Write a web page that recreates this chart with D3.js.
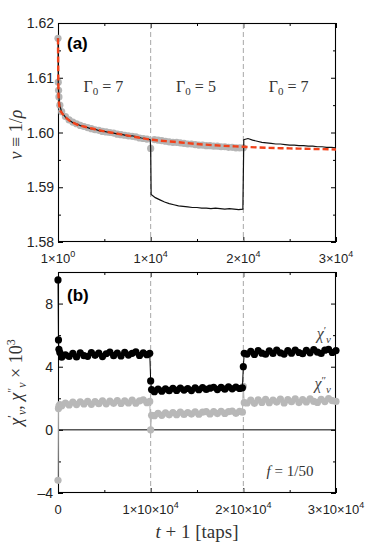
<!DOCTYPE html>
<html><head><meta charset="utf-8">
<script src="https://cdn.jsdelivr.net/npm/d3@7/dist/d3.min.js"></script>
<style>
body{margin:0;background:#fff;}
svg{display:block;}
</style></head>
<body>
<svg id="chart" width="374" height="548"></svg>
<script>
// ---------- DATA ----------
const xTickValues = [0, 10000, 20000, 30000];
const xTickExpTop = ["0", "4", "4", "4"];
const xTickMantTop = ["1", "1", "2", "3"];
const xTickLabelsBottom = ["0", "1×10|4", "2×10|4", "3×10|4"];
const yTopTicks = [1.58, 1.59, 1.60, 1.61, 1.62];
const yBotTicks = [-4, 0, 4, 8];
const transitions = [10000, 20000];
const gammaLabels = ["7", "5", "7"];
const gammaCenters = [5000, 15000, 25000];

// Red dashed (reference Γ0 = 7 curve)
const tRed = [0, 50, 100, 200, 400, 700, 1000, 1500, 2000, 3000, 4000, 5000, 6000, 8000, 10000, 12500, 15000, 17500, 20000, 22500, 25000, 27500, 30000];
const vRed = [1.6172, 1.6075, 1.6055, 1.6043, 1.6036, 1.6030, 1.6025, 1.6019, 1.6015, 1.6010, 1.6006, 1.6002, 1.5999, 1.5993, 1.5987, 1.5983, 1.5979, 1.5976, 1.5974, 1.5972, 1.5971, 1.5970, 1.5969];

// Gray points (constant Γ0 = 7 run)
const tGray = [0, 30, 60, 100, 200, 400, 800, 1200, 1600, 2000, 2400, 2800, 3200, 3600, 4000, 4400, 4800, 5200, 5600, 6000, 6400, 6800, 7200, 7600, 8000, 8400, 8800, 9200, 9600, 10000, 10400, 10800, 11200, 11600, 12000, 12400, 12800, 13200, 13600, 14000, 14400, 14800, 15200, 15600, 16000, 16400, 16800, 17200, 17600, 18000, 18400, 18800, 19200, 19600, 20000];
const vGray = [1.6172, 1.6092, 1.6077, 1.6065, 1.6050, 1.6038, 1.6029, 1.6023, 1.6019, 1.6016, 1.6013, 1.6011, 1.6009, 1.6007, 1.6005, 1.6004, 1.6002, 1.6001, 1.6000, 1.5999, 1.5997, 1.5996, 1.5995, 1.5994, 1.5993, 1.5992, 1.5990, 1.5989, 1.5988, 1.5971, 1.5987, 1.5986, 1.5985, 1.5984, 1.5983, 1.5982, 1.5982, 1.5981, 1.5980, 1.5979, 1.5979, 1.5978, 1.5977, 1.5977, 1.5976, 1.5976, 1.5975, 1.5975, 1.5974, 1.5974, 1.5973, 1.5973, 1.5972, 1.5972, 1.5972];

// Black line (switching protocol 7 -> 5 -> 7)
const tBlack = [0, 30, 60, 100, 200, 400, 800, 1200, 1600, 2000, 2500, 3000, 3500, 4000, 4500, 5000, 5500, 6000, 6500, 7000, 7500, 8000, 8500, 9000, 9500, 9950, 10000, 10050, 10500, 11000, 11500, 12000, 12500, 13000, 13500, 14000, 14500, 15000, 15500, 16000, 16500, 17000, 17500, 18000, 18500, 19000, 19500, 19950, 20050, 20500, 21000, 21500, 22000, 22500, 23000, 23500, 24000, 24500, 25000, 25500, 26000, 26500, 27000, 27500, 28000, 28500, 29000, 29500, 30000];
const vBlack = [1.6172, 1.6090, 1.6076, 1.6064, 1.6049, 1.6037, 1.6028, 1.6023, 1.6018, 1.6016, 1.6012, 1.6010, 1.6007, 1.6006, 1.6003, 1.6002, 1.6000, 1.5999, 1.5997, 1.5996, 1.5994, 1.5994, 1.5992, 1.5990, 1.5989, 1.5987, 1.5972, 1.5887, 1.5881, 1.5877, 1.5873, 1.5870, 1.5868, 1.5866, 1.5865, 1.5864, 1.5863, 1.5863, 1.5862, 1.5862, 1.5861, 1.5862, 1.5861, 1.5860, 1.5861, 1.5860, 1.5859, 1.5860, 1.5987, 1.5989, 1.5986, 1.5984, 1.5982, 1.5981, 1.5980, 1.5979, 1.5979, 1.5978, 1.5977, 1.5977, 1.5976, 1.5976, 1.5975, 1.5975, 1.5974, 1.5974, 1.5973, 1.5973, 1.5972];

// Bottom panel: χ'_v (black) and χ''_v (gray), ×10^3
const tChi = [0, 50, 100, 200, 400, 800, 1200, 1600, 2000, 2400, 2800, 3200, 3600, 4000, 4400, 4800, 5200, 5600, 6000, 6400, 6800, 7200, 7600, 8000, 8400, 8800, 9200, 9600, 9900, 10000, 10100, 10400, 10800, 11200, 11600, 12000, 12400, 12800, 13200, 13600, 14000, 14400, 14800, 15200, 15600, 16000, 16400, 16800, 17200, 17600, 18000, 18400, 18800, 19200, 19600, 19900, 20000, 20100, 20400, 20800, 21200, 21600, 22000, 22400, 22800, 23200, 23600, 24000, 24400, 24800, 25200, 25600, 26000, 26400, 26800, 27200, 27600, 28000, 28400, 28800, 29200, 29600, 30000];
const chiPrime = [9.5, 5.7, 5.1, 4.9, 4.6, 4.75, 4.65, 4.85, 4.62, 4.88, 4.70, 4.66, 4.90, 4.72, 4.86, 4.64, 4.82, 4.92, 4.70, 4.87, 4.68, 4.91, 4.74, 4.85, 4.94, 4.71, 4.88, 4.76, 4.85, 3.1, 2.55, 2.42, 2.58, 2.45, 2.60, 2.48, 2.63, 2.50, 2.65, 2.52, 2.62, 2.49, 2.66, 2.54, 2.68, 2.56, 2.64, 2.70, 2.55, 2.69, 2.58, 2.72, 2.60, 2.71, 2.62, 2.66, 4.0, 4.85, 4.80, 4.98, 4.78, 5.02, 4.86, 4.79, 5.00, 4.84, 5.05, 4.88, 4.80, 5.02, 4.86, 5.06, 4.90, 4.82, 5.04, 4.88, 5.08, 4.92, 4.84, 5.05, 5.10, 4.90, 5.02];
const chiSecond = [-3.2, 1.35, 1.5, 1.6, 1.52, 1.70, 1.58, 1.76, 1.60, 1.78, 1.64, 1.80, 1.62, 1.79, 1.66, 1.84, 1.65, 1.82, 1.68, 1.86, 1.67, 1.83, 1.70, 1.88, 1.69, 1.84, 1.90, 1.72, 1.80, 0.0, 0.92, 0.90, 1.05, 0.92, 1.08, 0.95, 1.10, 0.96, 1.12, 0.98, 1.10, 1.00, 1.14, 0.99, 1.12, 1.15, 1.01, 1.16, 1.03, 1.18, 1.04, 1.15, 1.19, 1.05, 1.17, 1.12, 2.75, 1.72, 1.70, 1.88, 1.68, 1.90, 1.74, 1.94, 1.72, 1.89, 1.76, 1.95, 1.70, 1.91, 1.78, 1.97, 1.73, 1.92, 1.77, 1.96, 1.80, 1.74, 1.94, 1.79, 1.98, 1.85, 1.80];

// ---------- DRAWING ----------
const svg = d3.select("#chart");
const L = 58, R = 336;
const topY0 = 23, topY1 = 242;
const botY0 = 272, botY1 = 493;
const sans = "'Liberation Sans', Arial, sans-serif";
const serif = "'Liberation Serif', 'Times New Roman', serif";

const x = d3.scaleLinear().domain([0, 30000]).range([L, R]);
const yTop = d3.scaleLinear().domain([1.58, 1.62]).range([topY1, topY0]);
const yBot = d3.scaleLinear().domain([-4, 10]).range([botY1, botY0]);

function panelAxes(y0, y1, yScale, yMajor, yMinor) {
  const g = svg.append("g");
  g.append("g").attr("transform", `translate(0,${y1})`)
    .call(d3.axisBottom(x).tickValues(xTickValues).tickSizeInner(-5).tickSizeOuter(0).tickFormat(""));
  g.append("g").attr("transform", `translate(0,${y1})`)
    .call(d3.axisBottom(x).tickValues([5000, 15000, 25000]).tickSizeInner(-3).tickSizeOuter(0).tickFormat(""));
  g.append("g").attr("transform", `translate(0,${y0})`)
    .call(d3.axisTop(x).tickValues(xTickValues).tickSizeInner(-5).tickSizeOuter(0).tickFormat(""));
  g.append("g").attr("transform", `translate(0,${y0})`)
    .call(d3.axisTop(x).tickValues([5000, 15000, 25000]).tickSizeInner(-3).tickSizeOuter(0).tickFormat(""));
  g.append("g").attr("transform", `translate(${L},0)`)
    .call(d3.axisLeft(yScale).tickValues(yMajor).tickSizeInner(-5).tickSizeOuter(0).tickFormat(""));
  g.append("g").attr("transform", `translate(${L},0)`)
    .call(d3.axisLeft(yScale).tickValues(yMinor).tickSizeInner(-3).tickSizeOuter(0).tickFormat(""));
  g.append("g").attr("transform", `translate(${R},0)`)
    .call(d3.axisRight(yScale).tickValues(yMajor).tickSizeInner(-5).tickSizeOuter(0).tickFormat(""));
  g.append("g").attr("transform", `translate(${R},0)`)
    .call(d3.axisRight(yScale).tickValues(yMinor).tickSizeInner(-3).tickSizeOuter(0).tickFormat(""));
  g.selectAll(".domain").remove();
  g.selectAll(".tick line").attr("stroke", "#000").attr("stroke-width", 1);
  svg.append("rect").attr("x", L + 0.5).attr("y", y0 + 0.5).attr("width", R - L - 1).attr("height", y1 - y0 - 1)
    .attr("fill", "none").attr("stroke", "#000").attr("stroke-width", 1.1);
  svg.append("g").selectAll("line").data(transitions).join("line")
    .attr("x1", d => x(d)).attr("x2", d => x(d)).attr("y1", y0 + 1).attr("y2", y1 - 1)
    .attr("stroke", "#a8a8a8").attr("stroke-width", 1).attr("stroke-dasharray", "5,3");
}

panelAxes(topY0, topY1, yTop, yTopTicks, [1.585, 1.595, 1.605, 1.615]);
panelAxes(botY0, botY1, yBot, yBotTicks, [-2, 2, 6]);

function sciLabel(g, xpos, ypos, mant, exp) {
  const t = g.append("text").attr("x", xpos).attr("y", ypos).attr("text-anchor", "middle")
    .attr("font-family", sans).attr("font-size", 13).attr("fill", "#222");
  if (exp === null) { t.text(mant); return; }
  t.append("tspan").text(mant + "×10");
  t.append("tspan").attr("dy", -6).attr("font-size", 9).text(exp);
}
const lab = svg.append("g");
xTickValues.forEach((v, i) => {
  sciLabel(lab, x(v), 263, xTickMantTop[i], xTickExpTop[i]);
  const parts = xTickLabelsBottom[i].split("|");
  sciLabel(lab, x(v), 514, parts[0], parts.length > 1 ? parts[1] : null);
});
yTopTicks.forEach(v => {
  lab.append("text").attr("x", 54).attr("y", yTop(v) + 5).attr("text-anchor", "end")
    .attr("font-family", sans).attr("font-size", 14).attr("fill", "#222").text(d3.format(".2f")(v));
});
yBotTicks.forEach(v => {
  lab.append("text").attr("x", 53).attr("y", yBot(v) + 5).attr("text-anchor", "end")
    .attr("font-family", sans).attr("font-size", 14).attr("fill", "#222").text(v < 0 ? "–" + Math.abs(v) : String(v));
});

// ---------- TOP PANEL DATA ----------
const topG = svg.append("g");
topG.selectAll("circle.gray").data(tGray.map((t, i) => [t, vGray[i]])).join("circle")
  .attr("cx", d => x(d[0])).attr("cy", d => yTop(d[1])).attr("r", 3.6).attr("fill", "#b5b5b5");
topG.append("path").datum(tBlack.map((t, i) => [t, vBlack[i]]))
  .attr("d", d3.line().x(d => x(d[0])).y(d => yTop(d[1])))
  .attr("fill", "none").attr("stroke", "#111").attr("stroke-width", 1.2);
topG.append("path").datum(tRed.map((t, i) => [t, vRed[i]]))
  .attr("d", d3.line().curve(d3.curveMonotoneX).x(d => x(d[0])).y(d => yTop(d[1])))
  .attr("fill", "none").attr("stroke", "#f2421b").attr("stroke-width", 2.4).attr("stroke-dasharray", "6,3");

// ---------- BOTTOM PANEL DATA ----------
const botG = svg.append("g");
botG.append("line").attr("x1", L).attr("x2", R).attr("y1", yBot(0)).attr("y2", yBot(0))
  .attr("stroke", "#000").attr("stroke-width", 1);
const chi2 = tChi.map((t, i) => [t, chiSecond[i]]);
const chi1 = tChi.map((t, i) => [t, chiPrime[i]]);
botG.append("path").datum(chi2).attr("d", d3.line().x(d => x(d[0])).y(d => yBot(d[1])))
  .attr("fill", "none").attr("stroke", "#b5b5b5").attr("stroke-width", 1);
botG.selectAll("circle.c2").data(chi2).join("circle").attr("class", "c2")
  .attr("cx", d => x(d[0])).attr("cy", d => yBot(d[1])).attr("r", 3.6).attr("fill", "#b8b8b8");
botG.append("path").datum(chi1).attr("d", d3.line().x(d => x(d[0])).y(d => yBot(d[1])))
  .attr("fill", "none").attr("stroke", "#000").attr("stroke-width", 1);
botG.selectAll("circle.c1").data(chi1).join("circle").attr("class", "c1")
  .attr("cx", d => x(d[0])).attr("cy", d => yBot(d[1])).attr("r", 3.6).attr("fill", "#000");

// ---------- ANNOTATIONS ----------
const ann = svg.append("g");
ann.append("text").attr("x", 67).attr("y", 49).attr("font-family", sans).attr("font-weight", "bold")
  .attr("font-size", 17).text("(a)");
ann.append("text").attr("x", 67).attr("y", 301).attr("font-family", sans).attr("font-weight", "bold")
  .attr("font-size", 17).text("(b)");

gammaCenters.forEach((c, i) => {
  const t = ann.append("text").attr("x", x(c) - 1).attr("y", 92).attr("text-anchor", "middle")
    .attr("font-family", serif).attr("font-size", 16).attr("fill", "#333");
  t.append("tspan").text("Γ");
  t.append("tspan").attr("dy", 3).attr("font-size", 11).text("0");
  t.append("tspan").attr("dy", -3).text(" = " + gammaLabels[i]);
});

function chiLabel(ypos, primes) {
  const t = ann.append("text").attr("x", 331).attr("y", ypos).attr("text-anchor", "end")
    .attr("font-family", serif).attr("font-size", 16).attr("fill", "#444");
  t.append("tspan").attr("font-style", "italic").text("χ");
  t.append("tspan").attr("dy", -5).attr("font-size", 11).text(primes);
  t.append("tspan").attr("dy", 9).attr("font-size", 11).attr("font-style", "italic").text("v");
}
chiLabel(339, "′");
chiLabel(389, "″");

{
  const t = ann.append("text").attr("x", 290).attr("y", 476).attr("text-anchor", "middle")
    .attr("font-family", serif).attr("font-size", 15).attr("fill", "#333");
  t.append("tspan").attr("font-style", "italic").text("f");
  t.append("tspan").text(" = 1/50");
}

{
  const t = svg.append("text").attr("transform", `translate(22,${(topY0 + topY1) / 2 + 2}) rotate(-90)`)
    .attr("text-anchor", "middle").attr("font-family", serif).attr("font-size", 18).attr("fill", "#333");
  t.append("tspan").attr("font-style", "italic").text("v");
  t.append("tspan").text(" ≡ 1/");
  t.append("tspan").attr("font-style", "italic").text("ρ");
}
{
  const t = svg.append("text").attr("transform", `translate(22,${(botY0 + botY1) / 2}) rotate(-90)`)
    .attr("text-anchor", "middle").attr("font-family", serif).attr("font-size", 18).attr("fill", "#333");
  t.append("tspan").attr("font-style", "italic").text("χ");
  t.append("tspan").attr("dy", -6).attr("font-size", 12).text("′");
  t.append("tspan").attr("dy", 10).attr("font-size", 12).attr("font-style", "italic").text("v");
  t.append("tspan").attr("dy", -4).text(", ");
  t.append("tspan").attr("font-style", "italic").text("χ");
  t.append("tspan").attr("dy", -6).attr("font-size", 12).text("″");
  t.append("tspan").attr("dy", 10).attr("font-size", 12).attr("font-style", "italic").text("v");
  t.append("tspan").attr("dy", -4).text(" × 10");
  t.append("tspan").attr("dy", -7).attr("font-size", 12).text("3");
}
{
  const t = svg.append("text").attr("x", 197).attr("y", 538).attr("text-anchor", "middle")
    .attr("font-family", serif).attr("font-size", 19).attr("fill", "#333");
  t.append("tspan").attr("font-style", "italic").text("t");
  t.append("tspan").text(" + 1 [taps]");
}
</script>
</body></html>
